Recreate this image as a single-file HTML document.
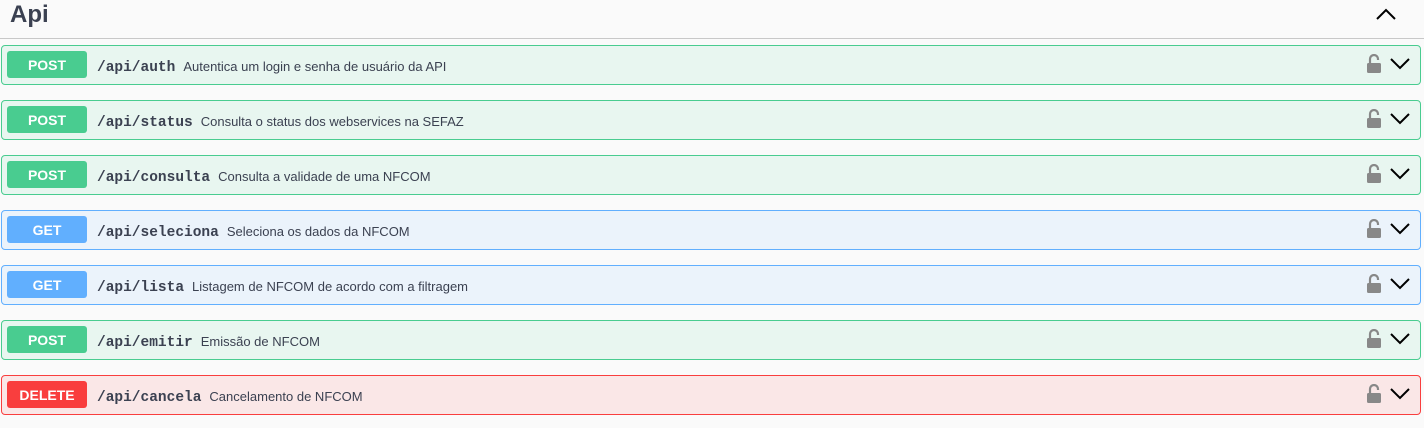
<!DOCTYPE html>
<html><head><style>
body{margin:0;width:1424px;height:428px;background:#fafafa;font-family:"Liberation Sans",sans-serif;position:relative;overflow:hidden}
.h{position:absolute;left:10px;top:0;font-size:24px;font-weight:bold;color:#3b4151;line-height:30px}
.hl{position:absolute;left:0;top:38px;width:1424px;height:1px;background:#c8c8c8}
.up{position:absolute;left:1376px;top:8px}
.r{position:absolute;left:1px;width:1418px;height:38px;border:1px solid;border-radius:4px}
.m{position:absolute;left:5px;top:5px;width:80px;height:27px;border-radius:3px;color:#fff;font-weight:bold;font-size:14px;text-align:center;line-height:28px}
.p{position:absolute;left:95px;top:1px;line-height:40px;font-family:"Liberation Mono",monospace;font-weight:bold;font-size:14.5px;color:#3b4151;white-space:nowrap}
.p span{font-family:"Liberation Sans",sans-serif;font-weight:normal;font-size:13px;margin-left:8px}
.lk{position:absolute;left:1364px;top:8px}
.ch{position:absolute;left:1388px;top:12px}
.post{border-color:#49cc90;background:#e8f6f0}.post .m{background:#49cc90}
.get{border-color:#61affe;background:#ebf3fb}.get .m{background:#61affe}
.del{border-color:#f93e3e;background:#fae7e7}.del .m{background:#f93e3e}
</style></head><body>
<div class="h">Api</div>
<svg class="up" width="20" height="14"><path d="M1 11 L10 2 L19 11" fill="none" stroke="#000" stroke-width="2"/></svg>
<div class="hl"></div>
<div class="r post" style="top:45px"><div class="m">POST</div><div class="p">/api/auth<span>Autentica um login e senha de usuário da API</span></div>LOCK</div>
<div class="r post" style="top:100px"><div class="m">POST</div><div class="p">/api/status<span>Consulta o status dos webservices na SEFAZ</span></div>LOCK</div>
<div class="r post" style="top:155px"><div class="m">POST</div><div class="p">/api/consulta<span>Consulta a validade de uma NFCOM</span></div>LOCK</div>
<div class="r get" style="top:210px"><div class="m">GET</div><div class="p">/api/seleciona<span>Seleciona os dados da NFCOM</span></div>LOCK</div>
<div class="r get" style="top:265px"><div class="m">GET</div><div class="p">/api/lista<span>Listagem de NFCOM de acordo com a filtragem</span></div>LOCK</div>
<div class="r post" style="top:320px"><div class="m">POST</div><div class="p">/api/emitir<span>Emissão de NFCOM</span></div>LOCK</div>
<div class="r del" style="top:375px"><div class="m">DELETE</div><div class="p">/api/cancela<span>Cancelamento de NFCOM</span></div>LOCK</div>
<script>
document.querySelectorAll('.r').forEach(function(r){
r.innerHTML=r.innerHTML.replace('LOCK','<svg class="lk" width="16" height="20"><path d="M4 9 V5 a4 4 0 0 1 8 0 V6" fill="none" stroke="#888" stroke-width="2.2"/><rect x="1" y="9" width="14" height="10" rx="1.5" fill="#888"/></svg><svg class="ch" width="20" height="12"><path d="M1 1 L10 10 L19 1" fill="none" stroke="#000" stroke-width="2"/></svg>');
});
</script>
</body></html>
